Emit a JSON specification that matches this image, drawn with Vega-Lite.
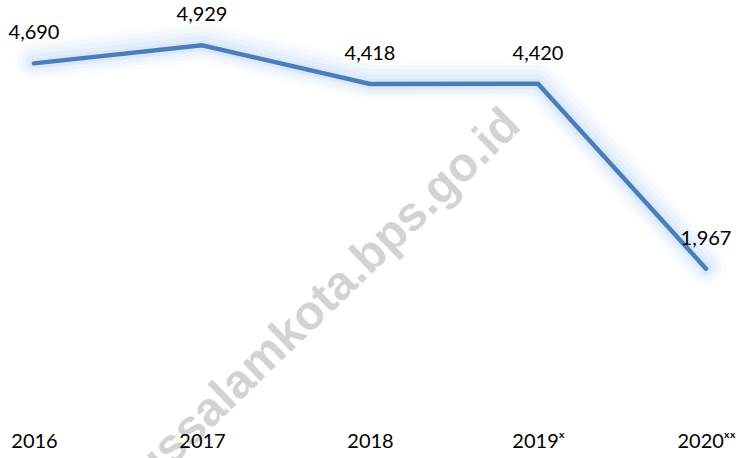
{
  "$schema": "https://vega.github.io/schema/vega-lite/v6.json",
  "width": 736,
  "height": 377,
  "autosize": "none",
  "padding": {"left": 0, "top": 40, "right": 0, "bottom": 41},
  "background": "white",
  "config": {"view": {"stroke": null}, "font": "Lato"},
  "data": {
    "values": [
      {"year": 2016, "value": 4690},
      {"year": 2017, "value": 4929},
      {"year": 2018, "value": 4418},
      {"year": 2019, "value": 4420},
      {"year": 2020, "value": 1967}
    ]
  },
  "encoding": {
    "x": {
      "field": "year",
      "type": "quantitative",
      "scale": {"domain": [2015.7976, 2020.1786], "nice": false, "zero": false},
      "axis": {
        "title": null,
        "domain": false,
        "ticks": false,
        "grid": false,
        "zindex": 1,
        "values": [2016, 2017, 2018, 2019, 2020],
        "labelAngle": 0,
        "labelFont": "Lato",
        "labelFontSize": 20,
        "labelColor": "#000000",
        "labelPadding": 14,
        "labelFlush": false,
        "labelOverlap": false,
        "labelExpr": "datum.value == 2019 ? '2019ˣ' : datum.value == 2020 ? '2020ˣˣ' : '' + datum.value"
      }
    },
    "y": {
      "field": "value",
      "type": "quantitative",
      "scale": {"domain": [0, 5000], "nice": false, "zero": true},
      "axis": null
    }
  },
  "resolve": {"scale": {"y": "independent"}},
  "layer": [
    {
      "mark": {"type": "line", "color": "#b8d4f2", "strokeWidth": 40, "opacity": 0.07, "strokeCap": "round", "strokeJoin": "round"},
      "encoding": {"y": {"field": "value", "type": "quantitative", "scale": {"domain": [-40, 4960], "nice": false, "zero": false}, "axis": null}}
    },
    {
      "mark": {"type": "line", "color": "#b8d4f2", "strokeWidth": 32, "opacity": 0.09, "strokeCap": "round", "strokeJoin": "round"},
      "encoding": {"y": {"field": "value", "type": "quantitative", "scale": {"domain": [-40, 4960], "nice": false, "zero": false}, "axis": null}}
    },
    {
      "mark": {"type": "line", "color": "#b8d4f2", "strokeWidth": 24, "opacity": 0.11, "strokeCap": "round", "strokeJoin": "round"},
      "encoding": {"y": {"field": "value", "type": "quantitative", "scale": {"domain": [-30, 4970], "nice": false, "zero": false}, "axis": null}}
    },
    {
      "mark": {"type": "line", "color": "#b8d4f2", "strokeWidth": 16, "opacity": 0.15, "strokeCap": "round", "strokeJoin": "round"},
      "encoding": {"y": {"field": "value", "type": "quantitative", "scale": {"domain": [-20, 4980], "nice": false, "zero": false}, "axis": null}}
    },
    {
      "mark": {"type": "line", "color": "#b8d4f2", "strokeWidth": 10, "opacity": 0.2, "strokeCap": "round", "strokeJoin": "round"}
    },
    {
      "data": {"values": [{"site": "subulussalamkota.bps.go.id", "px": 2017.47, "py": 994}]},
      "mark": {"type": "text", "angle": 316, "fontSize": 48, "fontWeight": "bold", "font": "Liberation Sans", "color": "#d3d3d3", "align": "center", "baseline": "middle"},
      "encoding": {
        "x": {"field": "px", "type": "quantitative"},
        "y": {"field": "py", "type": "quantitative", "scale": {"domain": [0, 5000], "nice": false, "zero": true}, "axis": null},
        "text": {"field": "site"}
      }
    },
    {"mark": {"type": "line", "color": "#4a7ebb", "strokeWidth": 4.5, "strokeCap": "round", "strokeJoin": "miter"}},
    {
      "mark": {"type": "text", "font": "Lato", "fontSize": 20, "color": "#000000", "baseline": "middle", "align": "center", "dy": -30},
      "encoding": {"text": {"field": "value", "type": "quantitative", "format": ","}}
    }
  ]
}
